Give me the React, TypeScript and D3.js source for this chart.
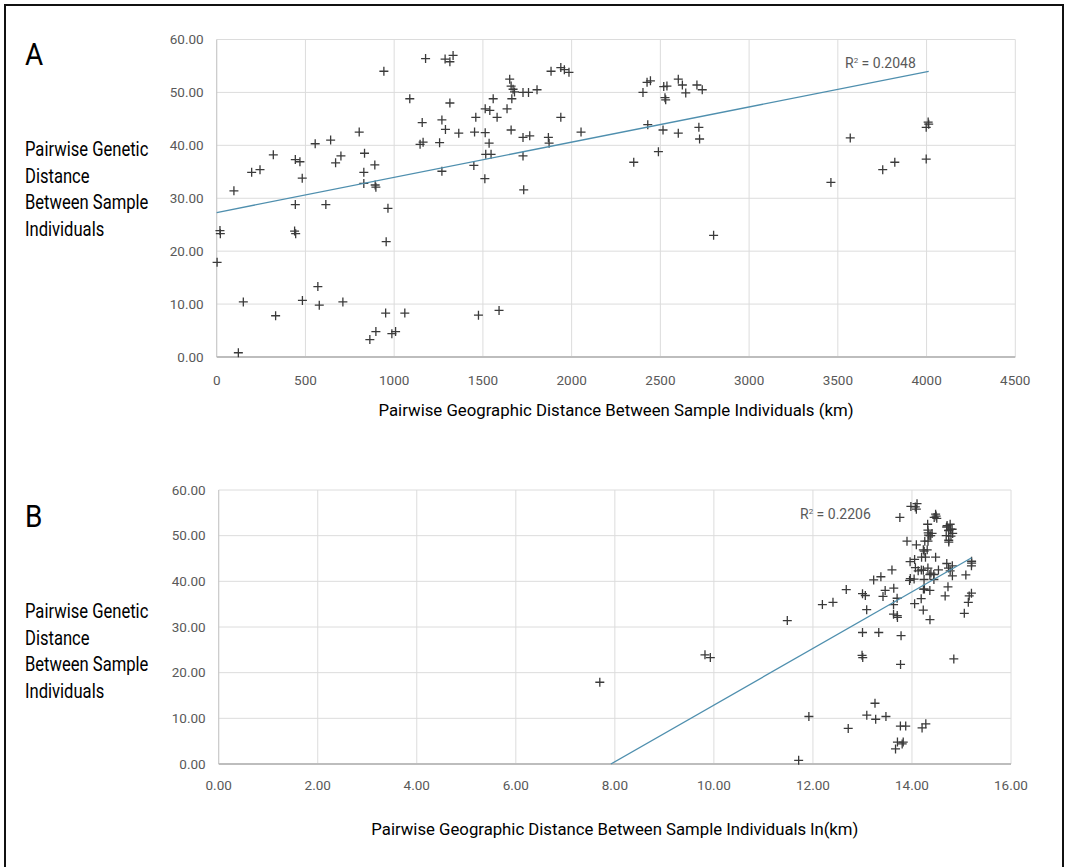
import React from "react";
import * as d3 from "d3";

// pairwise geographic distance (km) and genetic distance
const kmValues = [
  2.2, 18.4, 20.5, 97, 122, 150, 197, 244, 319, 332, 439, 445, 443, 443, 469, 482, 483, 555, 570, 578,
  615, 642, 670, 700, 711, 803, 829, 829, 833, 863, 891, 893, 897, 897, 942, 952, 955, 965, 987, 1008,
  1060, 1088, 1146, 1158, 1163, 1177, 1256, 1269, 1269, 1287, 1289, 1314, 1314, 1332, 1364, 1449, 1453, 1460, 1475, 1511,
  1513, 1513, 1516, 1535, 1539, 1546, 1558, 1580, 1591, 1636, 1651, 1659, 1659, 1663, 1670, 1678, 1726, 1726, 1726, 1730,
  1757, 1764, 1805, 1869, 1873, 1884, 1939, 1939, 1959, 1985, 2053, 2350, 2402, 2425, 2429, 2444, 2489, 2515, 2519, 2526,
  2530, 2537, 2601, 2601, 2624, 2643, 2706, 2717, 2721, 2736, 2800, 3461, 3570, 3753, 3821, 3998, 3998, 4009, 4012,
];
const geneticValues = [
  17.9, 23.9, 23.3, 31.4, 0.8, 10.4, 34.9, 35.4, 38.2, 7.8, 23.8, 23.3, 28.8, 37.3, 36.9, 33.8, 10.7, 40.3, 13.3, 9.8,
  28.8, 41.0, 36.7, 38.0, 10.4, 42.5, 34.9, 32.8, 38.5, 3.3, 36.3, 32.5, 32.1, 4.8, 54.0, 8.3, 21.8, 28.1, 4.4, 4.8,
  8.3, 48.8, 40.2, 44.3, 40.6, 56.4, 40.5, 44.8, 35.1, 56.3, 43.0, 55.8, 48.0, 57.0, 42.3, 36.2, 42.5, 45.3, 7.9, 33.7,
  46.9, 42.4, 38.3, 40.4, 46.6, 38.3, 48.8, 45.3, 8.8, 46.9, 52.5, 51.2, 42.9, 48.8, 50.6, 50.1, 50.0, 41.5, 38.0, 31.6,
  50.0, 41.8, 50.5, 41.5, 40.4, 54.0, 54.7, 45.3, 54.3, 53.8, 42.5, 36.8, 50.0, 51.9, 43.9, 52.2, 38.8, 42.9, 51.1, 49.0,
  48.6, 51.2, 52.5, 42.3, 51.4, 49.9, 51.4, 43.4, 41.2, 50.5, 23.0, 33.0, 41.4, 35.4, 36.8, 37.4, 43.4, 44.4, 44.0,
];

const kmTicks = [0, 500, 1000, 1500, 2000, 2500, 3000, 3500, 4000, 4500];
const lnTicks = [0, 2, 4, 6, 8, 10, 12, 14, 16];
const geneticTicks = [0, 10, 20, 30, 40, 50, 60];

// linear trendlines as shown on the figure
const trendA = { intercept: 27.3, slope: 0.00665, r2: "0.2048" };
const trendB = { intercept: -49.1, slope: 6.2, r2: "0.2206" };

const yTitleLines = ["Pairwise Genetic", "Distance", "Between Sample", "Individuals"];

const FONT = "Roboto, 'Liberation Sans', Arial, sans-serif";
const TICK = "#595959";
const GRID = "#dcdcdc";
const MARK = "#3a3a3a";
const TREND = "#4f8fae";

type PanelProps = {
  letter: string;
  top: number;
  xs: d3.ScaleLinear<number, number>;
  ys: d3.ScaleLinear<number, number>;
  xTicks: number[];
  xFormat: (v: number) => string;
  xs2: number[];
  trend: { intercept: number; slope: number; r2: string };
  r2At: [number, number];
  xTitle: string;
  xTitleWidth: number;
  xTitleY: number;
  xTickY: number;
};

function Panel(p: PanelProps) {
  const { xs, ys } = p;
  const [x0, x1] = xs.range();
  const [y0, y1] = ys.range();
  const yFmt = d3.format(".2f");

  const xMax = d3.max(p.xs2) as number;
  const xStart = Math.max(xs.domain()[0], -p.trend.intercept / p.trend.slope);
  const line = d3
    .line<number>()
    .x((d) => xs(d))
    .y((d) => ys(p.trend.intercept + p.trend.slope * d));

  return (
    <g>
      <text
        transform={`translate(25,${p.top}) scale(0.9,1)`}
        fontSize={31}
        fontFamily={FONT}
        fill="#000"
      >
        {p.letter}
      </text>
      {yTitleLines.map((t, i) => (
        <text
          key={t}
          transform={`translate(25,${p.top + 91 + i * 26.5}) scale(0.83,1)`}
          fontSize={20}
          fontFamily={FONT}
          fill="#000"
        >
          {t}
        </text>
      ))}

      {/* grid */}
      {geneticTicks.slice(1).map((t) => (
        <line key={"h" + t} x1={x0} x2={x1} y1={ys(t)} y2={ys(t)} stroke={GRID} strokeWidth={1} />
      ))}
      {p.xTicks.slice(1).map((t) => (
        <line key={"v" + t} x1={xs(t)} x2={xs(t)} y1={y0} y2={y1} stroke={GRID} strokeWidth={1} />
      ))}
      <line x1={x0} x2={x0} y1={y0} y2={y1} stroke="#c8c8c8" strokeWidth={1.2} />
      <line x1={x0} x2={x1} y1={y0} y2={y0} stroke="#bdbdbd" strokeWidth={1.8} />

      {/* ticks */}
      {geneticTicks.map((t) => (
        <text
          key={"yl" + t}
          x={x0 - 13}
          y={ys(t)}
          dy="0.35em"
          textAnchor="end"
          fontSize={13.5}
          fontFamily={FONT}
          fill={TICK}
        >
          {yFmt(t)}
        </text>
      ))}
      {p.xTicks.map((t) => (
        <text
          key={"xl" + t}
          x={xs(t)}
          y={p.xTickY}
          textAnchor="middle"
          fontSize={13.5}
          fontFamily={FONT}
          fill={TICK}
        >
          {p.xFormat(t)}
        </text>
      ))}

      {/* points */}
      {p.xs2.map((xv, i) => (
        <path
          key={"pt" + i}
          transform={`translate(${xs(xv)},${ys(geneticValues[i])})`}
          d="M-4.5,0H4.5M0,-4.5V4.5"
          stroke={MARK}
          strokeWidth={1.3}
          fill="none"
        />
      ))}

      <path d={line([xStart, xMax]) || ""} stroke={TREND} strokeWidth={1.3} fill="none" />
      <text x={p.r2At[0]} y={p.r2At[1]} fontSize={14} fontFamily={FONT} fill={TICK}>
        R<tspan dy={-5} fontSize={8}>2</tspan>
        <tspan dy={5}> = {p.trend.r2}</tspan>
      </text>

      <text
        x={(x0 + x1) / 2}
        y={p.xTitleY}
        textAnchor="middle"
        fontSize={17}
        fontFamily={FONT}
        fill="#000"
        textLength={p.xTitleWidth}
        lengthAdjust="spacingAndGlyphs"
      >
        {p.xTitle}
      </text>
    </g>
  );
}

export default function App() {
  const xA = d3.scaleLinear().domain([0, 4500]).range([216.7, 1015.3]);
  const yA = d3.scaleLinear().domain([0, 60]).range([357, 39.5]);
  const xB = d3.scaleLinear().domain([0, 16]).range([218.7, 1011]);
  const yB = d3.scaleLinear().domain([0, 60]).range([764, 490]);
  const lnValues = kmValues.map((k) => Math.log(k * 1000));

  return (
    <svg
      width={1065}
      height={867}
      style={{ position: "absolute", left: 0, top: 0, background: "#fff" }}
    >
      <rect x={0} y={0} width={1065} height={867} fill="#fff" />
      <rect x={5} y={5} width={1058} height={875} fill="none" stroke="#111" strokeWidth={2} />
      <Panel
        letter="A"
        top={65}
        xs={xA}
        ys={yA}
        xTicks={kmTicks}
        xFormat={d3.format("d")}
        xs2={kmValues}
        trend={trendA}
        r2At={[845, 68]}
        xTitle="Pairwise Geographic Distance Between Sample Individuals (km)"
        xTitleWidth={475}
        xTitleY={416}
        xTickY={385}
      />
      <Panel
        letter="B"
        top={527}
        xs={xB}
        ys={yB}
        xTicks={lnTicks}
        xFormat={d3.format(".2f")}
        xs2={lnValues}
        trend={trendB}
        r2At={[800, 519]}
        xTitle="Pairwise Geographic Distance Between Sample Individuals ln(km)"
        xTitleWidth={487}
        xTitleY={835}
        xTickY={790}
      />
    </svg>
  );
}
